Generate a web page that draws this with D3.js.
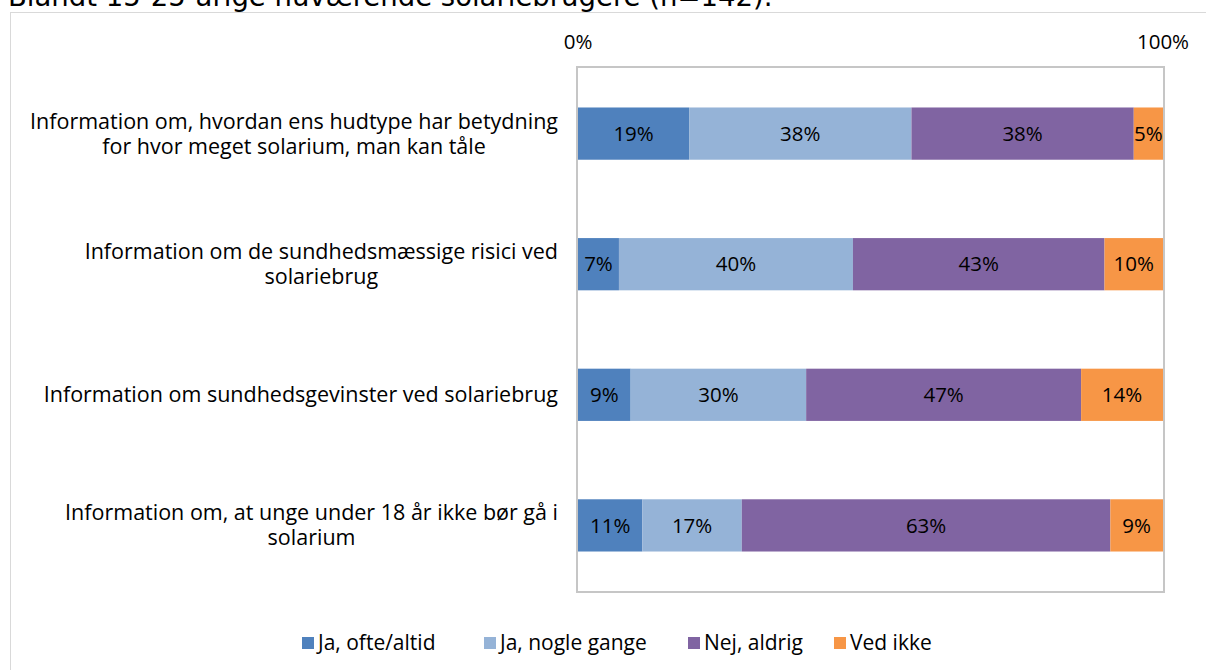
<!DOCTYPE html>
<meta charset="utf-8">
<style>
body { margin: 0; background: #fff; }
text { font-family: "Open Sans", sans-serif; fill: #000; }
</style>
<body>
<script src="https://d3js.org/d3.v7.min.js"></script>
<script>

// data
var categories = [
  ["Information om, hvordan ens hudtype har betydning", "for hvor meget solarium, man kan tåle"],
  ["Information om de sundhedsmæssige risici ved", "solariebrug"],
  ["Information om sundhedsgevinster ved solariebrug"],
  ["Information om, at unge under 18 år ikke bør gå i", "solarium"]
];
var seriesNames = ["Ja, ofte/altid", "Ja, nogle gange", "Nej, aldrig", "Ved ikke"];
var oftenValues = [19, 7, 9, 11];
var sometimesValues = [38, 40, 30, 17];
var neverValues = [38, 43, 47, 63];
var dontKnowValues = [5, 10, 14, 9];
var xTickLabels = ["0%", "100%"];
var colors = ["#4F81BD", "#95B3D7", "#8064A2", "#F79646"];

var W = 1206, H = 670;
var plot = {left: 578, right: 1163, top: 67, bottom: 592};

var svg = d3.select("body").append("svg")
    .attr("width", W)
    .attr("height", H);

// title (cut off at top in the original)
svg.append("text")
    .attr("x", 8)
    .attr("y", 6)
    .attr("font-size", 27.5)
    .style("font-family", "'DejaVu Sans', sans-serif")
    .text("Blandt 15-25-årige nuværende solariebrugere (n=142).");

// outer chart frame
svg.append("rect")
    .attr("x", 10.5).attr("y", 12.5)
    .attr("width", W).attr("height", H)
    .attr("fill", "none")
    .attr("stroke", "#D9D9D9");

// scales
var x = d3.scaleLinear().domain([0, 100]).range([plot.left, plot.right]);
var y = d3.scaleBand()
    .domain(d3.range(categories.length))
    .range([plot.top, plot.bottom])
    .paddingInner(0.6).paddingOuter(0.31);

// plot area box
svg.append("rect")
    .attr("x", plot.left - 1).attr("y", plot.top)
    .attr("width", plot.right - plot.left + 2).attr("height", plot.bottom - plot.top)
    .attr("fill", "none")
    .attr("stroke", "#C6C6C6")
    .attr("stroke-width", 2);

// stack
var table = categories.map(function(c, i) {
  return {i: i, s0: oftenValues[i], s1: sometimesValues[i], s2: neverValues[i], s3: dontKnowValues[i]};
});
var stack = d3.stack().keys(["s0", "s1", "s2", "s3"])(table);

var layers = svg.selectAll("g.layer")
    .data(stack)
  .enter().append("g")
    .attr("class", "layer")
    .attr("fill", function(d, k) { return colors[k]; });

layers.selectAll("rect")
    .data(function(d) { return d; })
  .enter().append("rect")
    .attr("x", function(d) { return x(d[0]); })
    .attr("y", function(d) { return y(d.data.i); })
    .attr("width", function(d) { return x(d[1]) - x(d[0]); })
    .attr("height", y.bandwidth());

layers.selectAll("text")
    .data(function(d) { return d; })
  .enter().append("text")
    .attr("x", function(d) { return (x(d[0]) + x(d[1])) / 2; })
    .attr("y", function(d) { return y(d.data.i) + y.bandwidth() / 2; })
    .attr("dy", "0.35em")
    .attr("text-anchor", "middle")
    .attr("font-size", 20.5)
    .text(function(d) { return (d[1] - d[0]) + "%"; });

// x tick labels on top
svg.selectAll("text.xtick")
    .data(xTickLabels)
  .enter().append("text")
    .attr("class", "xtick")
    .attr("x", function(d, i) { return x(i * 100); })
    .attr("y", 49)
    .attr("text-anchor", "middle")
    .attr("font-size", 20.5)
    .text(function(d) { return d; });

// category labels, centred lines, right edge at 558
var catGroups = svg.selectAll("g.cat")
    .data(categories)
  .enter().append("g")
    .attr("class", "cat");

catGroups.each(function(lines, i) {
  var g = d3.select(this);
  var cy = y(i) + y.bandwidth() / 2;
  var t = g.append("text")
      .attr("text-anchor", "middle")
      .attr("font-size", 21.5);
  var spans = lines.map(function(l, j) {
    return t.append("tspan")
      .attr("x", 0)
      .attr("y", cy + (j - (lines.length - 1) / 2) * 25)
      .attr("dy", "0.35em")
      .text(l);
  });
  var w = d3.max(spans, function(s) { return s.node().getComputedTextLength(); });
  spans.forEach(function(s) { s.attr("x", 558 - w / 2); });
});

// legend
var legendX = [302, 484, 688, 834];
var legend = svg.selectAll("g.legend")
    .data(seriesNames)
  .enter().append("g")
    .attr("class", "legend")
    .attr("transform", function(d, i) { return "translate(" + legendX[i] + ",643)"; });

legend.append("rect")
    .attr("x", 0).attr("y", -6)
    .attr("width", 12).attr("height", 12)
    .attr("fill", function(d, i) { return colors[i]; });

legend.append("text")
    .attr("x", 16)
    .attr("dy", "0.35em")
    .attr("font-size", 21)
    .text(function(d) { return d; });

</script>
</body>
